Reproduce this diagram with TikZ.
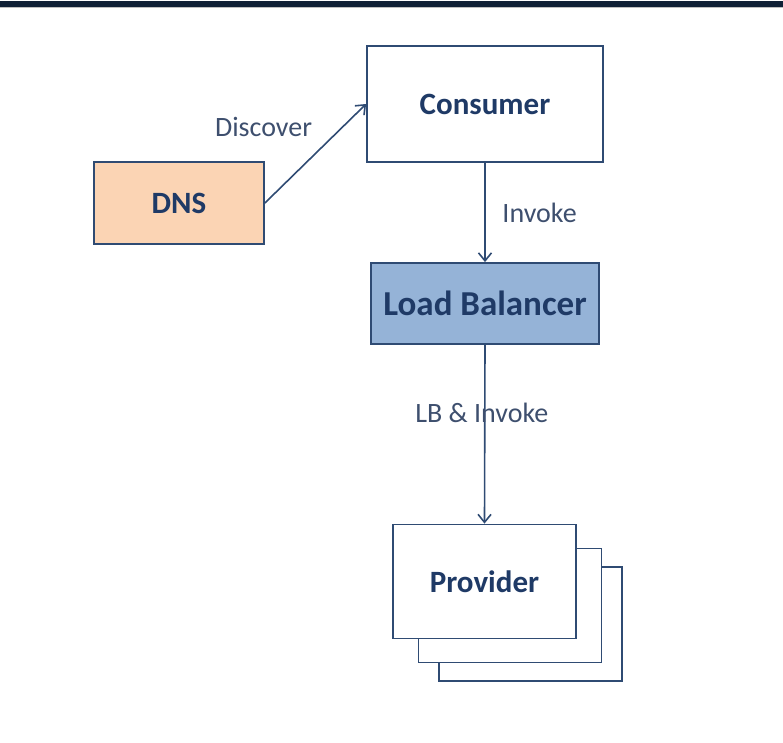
\documentclass[tikz,border=0pt]{standalone}
\usepackage{fontspec}
\setmainfont{Carlito}
\usetikzlibrary{positioning,arrows.meta}
\definecolor{edgeblue}{HTML}{2F4B73}
\definecolor{boxtext}{HTML}{1F3A66}
\definecolor{labeltext}{HTML}{3E4F6E}
\definecolor{dnsfill}{HTML}{FBD4B4}
\definecolor{lbfill}{HTML}{95B3D7}
\definecolor{topbar}{HTML}{0F2036}
\begin{document}
\begin{tikzpicture}[x=0.5pt,y=-0.5pt,
    box/.style={draw=edgeblue,line width=0.9pt,fill=white,inner sep=0pt,
      font=\bfseries\fontsize{15.5pt}{18pt}\selectfont,text=boxtext},
    lbl/.style={font=\fontsize{14pt}{16pt}\selectfont,text=labeltext},
    conn/.style={-{Straight Barb[length=4pt,width=6.5pt]},draw=edgeblue,line width=0.8pt}]
  \useasboundingbox (0,0) rectangle (783,743);
  \fill[topbar] (0,1) rectangle (783,7);
  \fill[gray!50] (0,7) rectangle (783,8);

  \node[box,minimum width=118pt,minimum height=58pt] (consumer) at (485,104) {Consumer};
  \node[box,fill=dnsfill,minimum width=85pt,minimum height=41pt] (dns) at (179,203) {DNS};
  \node[box,fill=lbfill,minimum width=114pt,minimum height=40.5pt,
    font=\bfseries\fontsize{17.5pt}{20pt}\selectfont] (lb) at (485,303.5) {Load Balancer};
  % stacked providers
  \node[box,minimum width=91.5pt,minimum height=57pt] (provider3) at (530.5,624) {};
  \node[box,minimum width=91.5pt,minimum height=57pt] (provider2) at (510,605.5) {};
  \node[box,minimum width=91.5pt,minimum height=57pt] (provider) at (484.5,581.5) {Provider};

  \draw[conn] (dns.east) -- (consumer.west)
    node[lbl,midway,anchor=south east,yshift=4.5pt,xshift=2pt] {Discover};
  \draw[conn] (consumer.south) -- (lb.north)
    node[lbl,midway,right=5pt] {Invoke};
  \draw[conn] (lb.south) -- (provider.north)
    node[lbl,pos=0.38,xshift=-1.5pt] {LB \& Invoke};
\end{tikzpicture}
\end{document}
